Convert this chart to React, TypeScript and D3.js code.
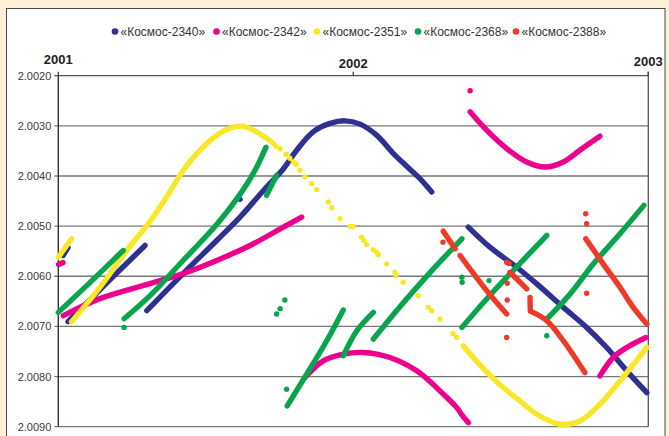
import React from "react";
import * as d3 from "d3";

type Pt = [number, number];

// ---- data (x = decimal year, y = frequency-ratio value) ----
const yearTicks = [2001, 2002, 2003];
const valueTicks = [2.002, 2.003, 2.004, 2.005, 2.006, 2.007, 2.008, 2.009];
const seriesNames = ["«Космос-2340»", "«Космос-2342»", "«Космос-2351»", "«Космос-2368»", "«Космос-2388»"];

const kosmos2340Tracks: Pt[][] = [
  [[2001.016, 2.005586], [2001.033, 2.005426]],
  [[2001.033, 2.006906], [2001.162, 2.006146], [2001.294, 2.005386]],
  [[2001.300, 2.006686], [2001.423, 2.005946], [2001.537, 2.005286], [2001.616, 2.00482], [2001.706, 2.00422],
   [2001.762, 2.003866], [2001.808, 2.003486], [2001.864, 2.00312], [2001.921, 2.002952], [2001.972, 2.0029],
   [2002.023, 2.002966], [2002.079, 2.003186], [2002.136, 2.003552], [2002.181, 2.003806], [2002.226, 2.004052],
   [2002.266, 2.00432]],
  [[2002.39, 2.00502], [2002.463, 2.00542], [2002.554, 2.00582], [2002.622, 2.006152], [2002.712, 2.00662],
   [2002.791, 2.00702], [2002.859, 2.00742], [2002.927, 2.007886], [2002.995, 2.00832]],
];
const kosmos2340Points: Pt[] = [[2001.616, 2.004466]];

const kosmos2342Tracks: Pt[][] = [
  [[2001.001, 2.005766], [2001.016, 2.005726]],
  [[2001.017, 2.006786], [2001.141, 2.006446], [2001.311, 2.006146], [2001.424, 2.005946], [2001.537, 2.005686],
   [2001.65, 2.005386], [2001.763, 2.00502], [2001.825, 2.00482]],
  [[2001.836, 2.00802], [2001.898, 2.007686], [2001.966, 2.007552], [2002.034, 2.00752], [2002.124, 2.00762],
   [2002.215, 2.007886], [2002.294, 2.008286], [2002.351, 2.00862], [2002.368, 2.008766], [2002.39, 2.00892]],
  [[2002.396, 2.00272], [2002.452, 2.003086], [2002.52, 2.003452], [2002.588, 2.00372], [2002.65, 2.00382],
   [2002.712, 2.00372], [2002.768, 2.003486], [2002.836, 2.003206]],
  [[2002.836, 2.007986], [2002.881, 2.00762], [2002.927, 2.00742], [2002.992, 2.00722]],
];
const kosmos2342Points: Pt[] = [[2002.396, 2.0023]];

const kosmos2351Tracks: Pt[][] = [
  [[2001.0, 2.00562], [2001.045, 2.005252]],
  [[2001.045, 2.006906], [2001.141, 2.00622], [2001.232, 2.005486], [2001.311, 2.004906], [2001.367, 2.00442],
   [2001.424, 2.003886], [2001.48, 2.003486], [2001.537, 2.003186], [2001.582, 2.003046], [2001.622, 2.003006],
   [2001.661, 2.003086], [2001.706, 2.003246], [2001.728, 2.003346]],
  [[2002.373, 2.007386], [2002.429, 2.007766], [2002.508, 2.00822], [2002.565, 2.008486], [2002.622, 2.008752],
   [2002.701, 2.008952], [2002.768, 2.008886], [2002.836, 2.008552], [2002.904, 2.008086], [2002.995, 2.00742]],
];
const kosmos2351Points: Pt[] = [
  [2001.738, 2.003406], [2001.752, 2.003456], [2001.772, 2.003566], [2001.785, 2.003646], [2001.797, 2.00372],
  [2001.806, 2.003766], [2001.819, 2.003886], [2001.836, 2.00402], [2001.859, 2.004152], [2001.876, 2.004272],
  [2001.915, 2.00452], [2001.927, 2.004632], [2001.955, 2.004852], [2001.989, 2.005006], [2001.999, 2.005006],
  [2002.028, 2.00522], [2002.036, 2.005286], [2002.045, 2.005366], [2002.068, 2.005472], [2002.079, 2.00552],
  [2002.085, 2.005566], [2002.113, 2.005752], [2002.141, 2.00592], [2002.145, 2.005986], [2002.169, 2.00612],
  [2002.22, 2.006386], [2002.254, 2.00662], [2002.266, 2.006686], [2002.294, 2.006852], [2002.338, 2.007146],
  [2002.351, 2.00722],
];

const kosmos2368Tracks: Pt[][] = [
  [[2001.0, 2.00672], [2001.107, 2.006126], [2001.22, 2.005486]],
  [[2001.223, 2.006846], [2001.311, 2.006386], [2001.423, 2.005686], [2001.537, 2.004966], [2001.616, 2.004366],
   [2001.667, 2.003886], [2001.704, 2.003426]],
  [[2001.706, 2.004386], [2001.74, 2.003986]],
  [[2001.776, 2.008586], [2001.842, 2.007952], [2001.91, 2.007286], [2001.966, 2.006672]],
  [[2001.966, 2.007586], [2002.012, 2.007086], [2002.068, 2.00672]],
  [[2002.068, 2.007252], [2002.158, 2.006606], [2002.26, 2.005926], [2002.368, 2.005252]],
  [[2002.368, 2.00702], [2002.452, 2.006452], [2002.542, 2.005886], [2002.656, 2.005186]],
  [[2002.656, 2.006852], [2002.735, 2.006352], [2002.814, 2.005752], [2002.904, 2.005152], [2002.985, 2.004586]],
];
const kosmos2368Points: Pt[] = [
  [2001.223, 2.00702], [2001.74, 2.006752], [2001.752, 2.006646], [2001.768, 2.006472], [2001.774, 2.008252],
  [2002.368, 2.00602], [2002.369, 2.00612], [2002.46, 2.006086], [2002.656, 2.007186],
];

const kosmos2388Tracks: Pt[][] = [
  [[2002.305, 2.0051], [2002.345, 2.005452]],
  [[2002.362, 2.005586], [2002.452, 2.006286], [2002.52, 2.006752]],
  [[2002.531, 2.00592], [2002.588, 2.006252]],
  [[2002.599, 2.00642], [2002.6, 2.006686]],
  [[2002.602, 2.0067], [2002.656, 2.006886], [2002.712, 2.007286], [2002.785, 2.00792]],
  [[2002.788, 2.005252], [2002.847, 2.005752], [2002.904, 2.00622], [2002.949, 2.00662], [2002.995, 2.006952]],
];
const kosmos2388Points: Pt[] = [
  [2002.304, 2.00532], [2002.52, 2.00572], [2002.528, 2.005746], [2002.522, 2.00614], [2002.522, 2.006472],
  [2002.52, 2.00722], [2002.788, 2.004752], [2002.791, 2.004952], [2002.791, 2.00634],
];

const allTracks = [kosmos2340Tracks, kosmos2342Tracks, kosmos2351Tracks, kosmos2368Tracks, kosmos2388Tracks];
const allPoints = [kosmos2340Points, kosmos2342Points, kosmos2351Points, kosmos2368Points, kosmos2388Points];

// ---- styling ----
const COLORS = ["#2e3192", "#ec008c", "#f9e829", "#09a54e", "#ee3a26"];
const W = 669;
const H = 436;
const X0 = 58.3, X1 = 648.3, Y0 = 75.7, Y1 = 426.7;

export default function App() {
  const x = d3.scaleLinear().domain([2001, 2003]).range([X0, X1]);
  const y = d3.scaleLinear().domain([2.002, 2.009]).range([Y0, Y1]);
  const line = d3
    .line<Pt>()
    .x((d) => x(d[0]))
    .y((d) => y(d[1]))
    .curve(d3.curveCatmullRom.alpha(0.5));

  const legendX = [115, 216.5, 317, 418, 516];
  const font = "'Liberation Sans', Arial, sans-serif";

  return (
    <svg
      width={W}
      height={H}
      style={{ position: "absolute", left: 0, top: 0 }}
      fontFamily={font}
    >
      <rect x={0} y={0} width={W} height={H} fill="#fdefd8" />
      <rect x={6.5} y={8.5} width={658.5} height={440} fill="#ffffff" stroke="#4a4a4a" strokeWidth={1} />

      {/* legend */}
      {seriesNames.map((n, i) => (
        <g key={n}>
          <circle cx={legendX[i]} cy={31.5} r={3.3} fill={COLORS[i]} />
          <text x={legendX[i] + 5.5} y={35.6} fontSize={12} fill="#333">
            {n}
          </text>
        </g>
      ))}

      {/* grid */}
      {valueTicks.map((v) => (
        <g key={v}>
          <line x1={X0 - 4} x2={X1} y1={y(v)} y2={y(v)} stroke={v === 2.002 ? "#555" : "#777"} strokeWidth={1.3} />
          <text x={X0 - 7} y={y(v) + 4} fontSize={11} textAnchor="end" fill="#3a3a3a">
            {v.toFixed(4)}
          </text>
        </g>
      ))}
      <line x1={X0} x2={X0} y1={Y0} y2={Y1} stroke="#333" strokeWidth={1.4} />
      <line x1={X1} x2={X1} y1={Y0 - 4} y2={Y1} stroke="#555" strokeWidth={1.3} />
      {yearTicks.map((yr, i) => (
        <g key={yr}>
          <line x1={x(yr)} x2={x(yr)} y1={Y0 - 4} y2={Y0} stroke="#444" strokeWidth={1.3} />
          <text
            x={x(yr)}
            y={[64, 68, 66][i]}
            fontSize={13}
            fontWeight="bold"
            textAnchor="middle"
            fill="#222"
          >
            {yr}
          </text>
        </g>
      ))}

      {/* series */}
      {allTracks.map((tracks, si) => (
        <g key={si}>
          {tracks.map((t, ti) => (
            <path
              key={ti}
              d={line(t) || ""}
              fill="none"
              stroke={COLORS[si]}
              strokeWidth={5.4}
              strokeLinecap="round"
              strokeLinejoin="round"
            />
          ))}
          {allPoints[si].map((p, pi) => (
            <circle key={pi} cx={x(p[0])} cy={y(p[1])} r={2.7} fill={COLORS[si]} />
          ))}
        </g>
      ))}
    </svg>
  );
}
